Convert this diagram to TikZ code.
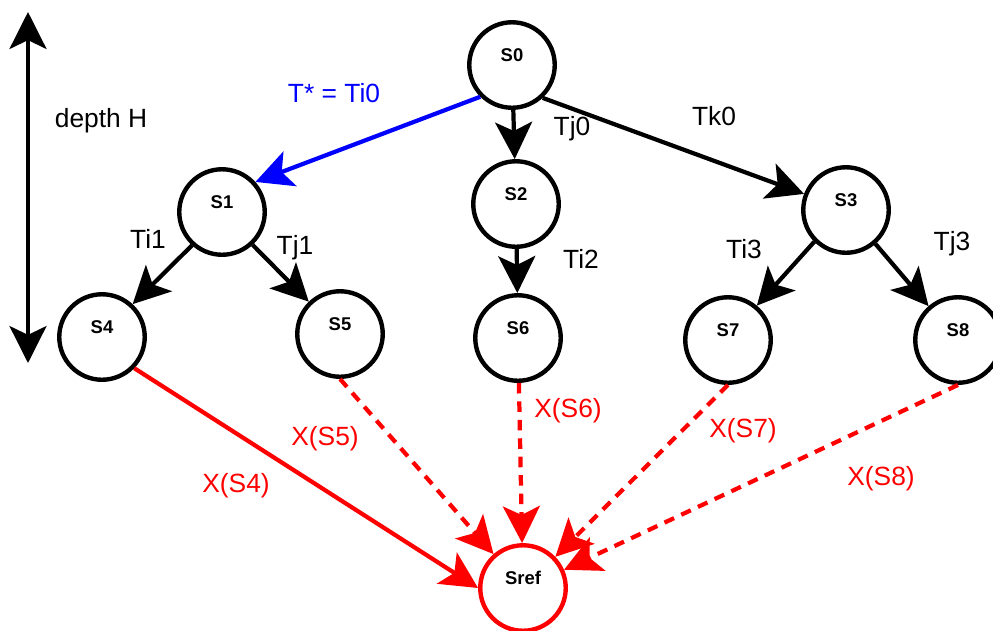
\documentclass[tikz,border=0pt]{standalone}
\usepackage{fontspec}
\setmainfont{Liberation Sans}
\usetikzlibrary{arrows.meta}
\definecolor{dred}{RGB}{255,0,0}
\definecolor{dblue}{RGB}{0,0,255}
\begin{document}
\begin{tikzpicture}[x=0.02cm,y=-0.02cm,
 st/.style={circle,draw,line width=2.5pt,minimum size=1.71cm,inner sep=0pt,text height=0.22cm,text depth=0.38cm,font=\bfseries\fontsize{10.5}{12}\selectfont},
 lab/.style={anchor=base,font=\fontsize{15}{18}\selectfont,inner sep=0pt},
 tipA/.style={-{Stealth[length=21pt,width=21pt,inset=5pt]}},
 edge/.style={line width=2.4pt,tipA},
 xedge/.style={edge,draw=dred},
 dsh/.style={dash pattern=on 6pt off 4.5pt}
]
\useasboundingbox (0,0) rectangle (993,630);
\clip (0,0) rectangle (993,630);
% states
\node[st] (S0) at (512,65) {S0};
\node[st] (S1) at (222,212) {S1};
\node[st] (S2) at (516,204) {S2};
\node[st] (S3) at (846,210) {S3};
\node[st] (S4) at (102,337) {S4};
\node[st] (S5) at (340,334) {S5};
\node[st] (S6) at (518,338) {S6};
\node[st] (S7) at (728,340) {S7};
\node[st] (S8) at (958,340) {S8};
\node[st,draw=dred] (Sref) at (523,588) {Sref};
% depth arrow
\coordinate (dtop) at (28,12);
\coordinate (dbot) at (28,363);
\draw[line width=2.4pt,{Stealth[length=21pt,width=21pt,inset=5pt]}-{Stealth[length=21pt,width=21pt,inset=5pt]}] (dtop) -- (dbot);
\node[lab] (depth) at (101,127) {depth H};
% transitions
\draw[edge,draw=dblue] (S0.225) -- (S1.42);
\draw[edge] (S0) -- (S2);
\draw[edge] (S0.313) -- (S3.159);
\draw[edge] (S1.228) -- (S4.47);
\draw[edge] (S1.313) -- (S5.134);
\draw[edge] (S2) -- (S6);
\draw[edge] (S3.225) -- (S7.50);
\draw[edge] (S3.311) -- (S8.131);
\draw[xedge] (S4.316) -- (Sref.180);
\draw[xedge,dsh] (S5.270) -- (Sref.131);
\draw[xedge,dsh] (S6) -- (Sref);
\draw[xedge,dsh] (S7.270) -- (Sref.44);
\draw[xedge,dsh] (S8.270) -- (Sref.24);
% labels
\node[lab,text=dblue] (lstar) at (334,102) {T* = Ti0};
\node[lab] (lTj0) at (572,135) {Tj0};
\node[lab] (lTk0) at (714,125) {Tk0};
\node[lab] (lTi1) at (148,248) {Ti1};
\node[lab] (lTj1) at (295,254) {Tj1};
\node[lab] (lTi2) at (581,268) {Ti2};
\node[lab] (lTi3) at (744,258) {Ti3};
\node[lab] (lTj3) at (952,250) {Tj3};
\node[lab,text=dred] (lX4) at (236,492) {X(S4)};
\node[lab,text=dred] (lX5) at (325,445) {X(S5)};
\node[lab,text=dred] (lX6) at (568,417) {X(S6)};
\node[lab,text=dred] (lX7) at (743,437) {X(S7)};
\node[lab,text=dred] (lX8) at (881,485) {X(S8)};
\end{tikzpicture}
\end{document}
